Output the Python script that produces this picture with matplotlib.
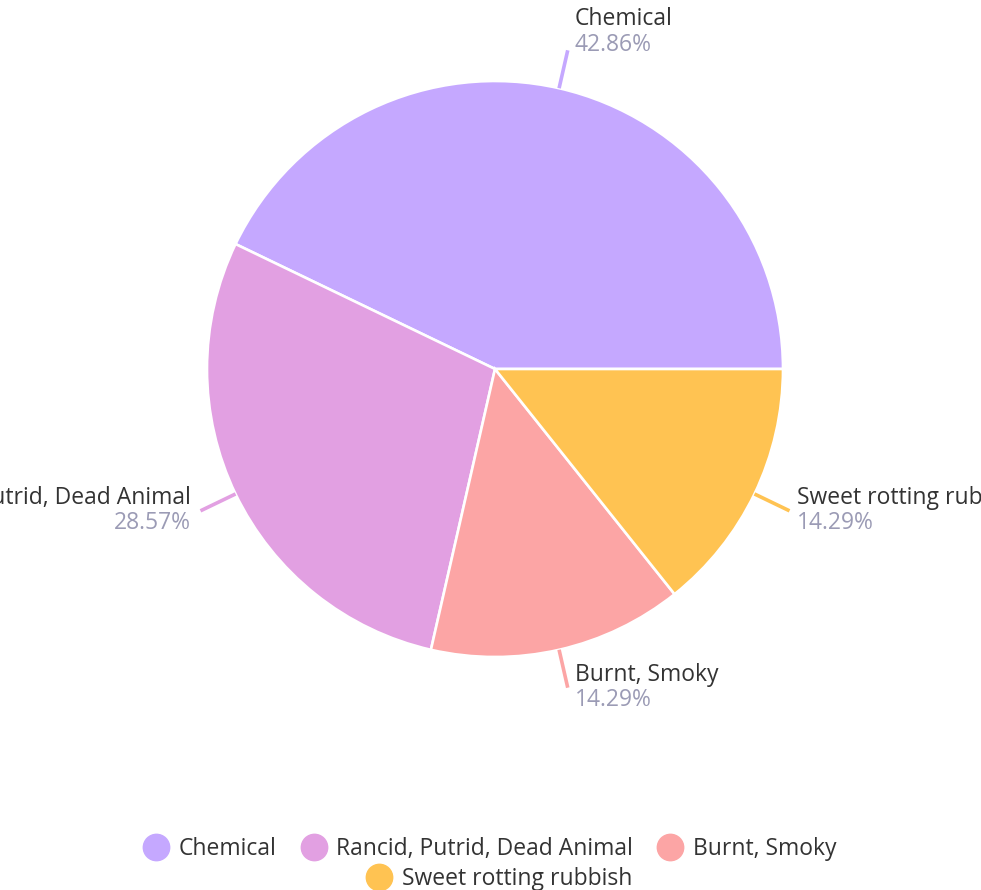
import numpy as np
import matplotlib.pyplot as plt
from matplotlib.lines import Line2D

# data
labels = ['Chemical', 'Rancid, Putrid, Dead Animal', 'Burnt, Smoky', 'Sweet rotting rubbish']
counts = [3, 2, 1, 1]
colors = ['#C5A8FF', '#E2A0E2', '#FCA5A5', '#FFC352']

plt.rcParams['font.family'] = ['Open Sans', 'DejaVu Sans']

W, H = 981, 890
fig = plt.figure(figsize=(W / 100, H / 100), dpi=100)
ax = fig.add_axes([0, 0, 1, 1])

cx, cy, R = 495, H - 369, 288
wedges, _ = ax.pie(counts, colors=colors, startangle=0, counterclock=True,
                   center=(cx, cy), radius=R, frame=True,
                   wedgeprops=dict(edgecolor='white', linewidth=1.9))
ax.set_xlim(0, W)
ax.set_ylim(0, H)
ax.set_aspect('equal')
ax.axis('off')

fs = 16.5
total = sum(counts)
for w, lab, c, n in zip(wedges, labels, colors, counts):
    ang = np.deg2rad((w.theta1 + w.theta2) / 2)
    ca, sa = np.cos(ang), np.sin(ang)
    x0, y0 = cx + R * ca, cy + R * sa
    x1, y1 = cx + 1.135 * R * ca, cy + 1.135 * R * sa
    ax.plot([x0, x1], [y0, y1], color=c, lw=2.6, solid_capstyle='butt')
    pct = f'{100 * n / total:.2f}%'
    if ca >= 0:
        tx, ha = x1 + 7, 'left'
    else:
        tx, ha = x1 - 10, 'right'
    if sa > 0.9:
        ny, py = y1 + 31, y1 + 5
    else:
        ny, py = y1 + 13, y1 - 12
    ax.text(tx, ny, lab, ha=ha, va='center', fontsize=fs, color='#333333')
    ax.text(tx, py, pct, ha=ha, va='center', fontsize=fs, color='#9B9BB5')

# legend, two centered rows
def handle(c):
    return Line2D([], [], marker='o', linestyle='none', markersize=19,
                  markerfacecolor=c, markeredgecolor=c)

fig.legend([handle(c) for c in colors[:3]], labels[:3], ncol=3,
           loc='center', bbox_to_anchor=(0.5, 1 - 849 / H), frameon=False,
           fontsize=fs, handlelength=1.0, handletextpad=0.5, columnspacing=1.1,
           labelcolor='#333333')
fig.legend([handle(colors[3])], labels[3:], ncol=1,
           loc='center', bbox_to_anchor=(0.51, 1 - 879 / H), frameon=False,
           fontsize=fs, handlelength=1.0, handletextpad=0.5,
           labelcolor='#333333')

fig.savefig('out.png', dpi=100)
